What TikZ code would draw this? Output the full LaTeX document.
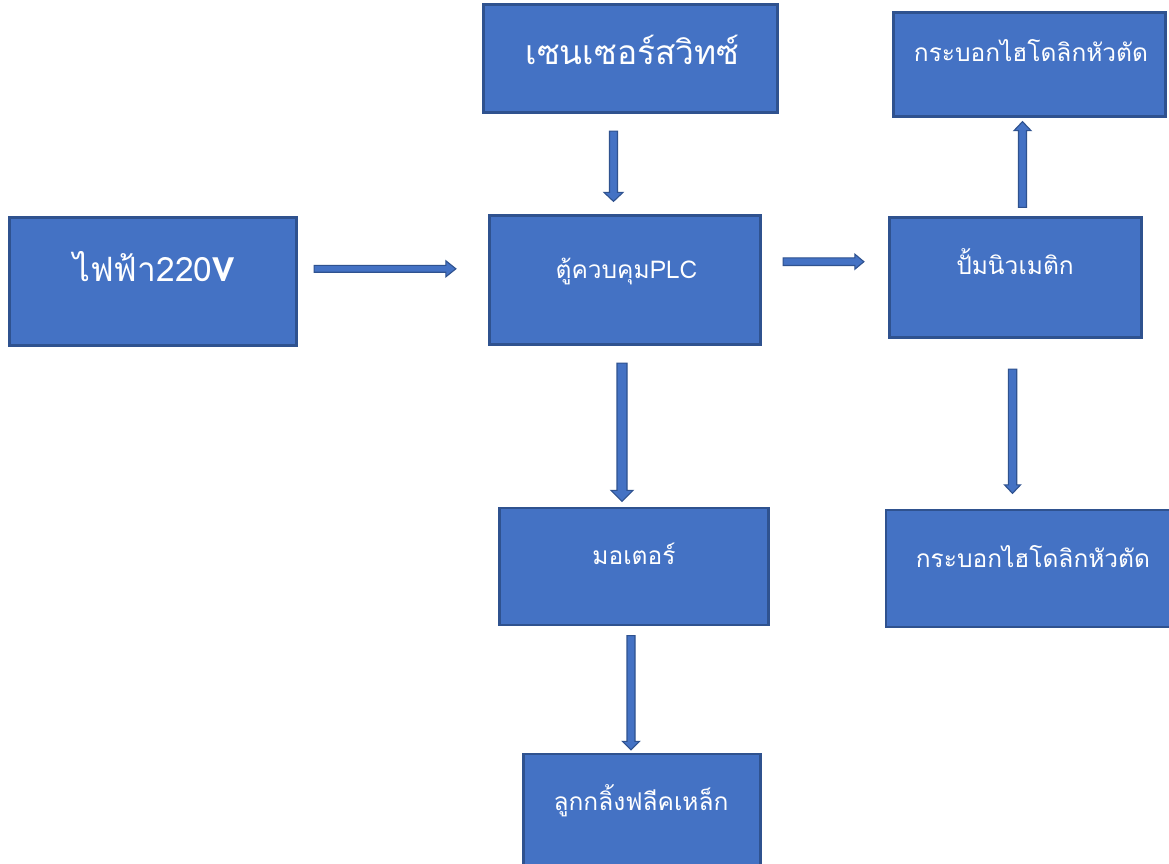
\documentclass[tikz,border=0pt]{standalone}
\usepackage{fontspec}
\newfontfamily\thai[Script=Thai]{Loma}
\usetikzlibrary{calc}
\definecolor{boxfill}{HTML}{4472C4}
\definecolor{boxline}{HTML}{2F528F}
\tikzset{
  box/.style={rectangle, draw=boxline, fill=boxfill, line width=2.2pt, inner sep=0pt},
  txt/.style={text=white, inner sep=0pt, anchor=base},
  big/.style={txt, font=\thai\fontsize{33.5}{38}\selectfont},
  small/.style={txt, font=\thai\fontsize{24.5}{28}\selectfont},
  ar/.style={draw=boxline, fill=boxfill, line width=1.1pt, line join=miter},
}
\newcommand\harrow[5]{\filldraw[ar] let \p1=(#1), \p2=(#2) in (\x1,\y1+#3) -- (\x2-#5,\y1+#3) -- (\x2-#5,\y1+#4) -- (\x2,\y1) -- (\x2-#5,\y1-#4) -- (\x2-#5,\y1-#3) -- (\x1,\y1-#3) -- cycle;}
\newcommand\darrow[5]{\filldraw[ar] let \p1=(#1), \p2=(#2) in (\x1-#3,\y1) -- (\x1-#3,\y2+#5) -- (\x1-#4,\y2+#5) -- (\x1,\y2) -- (\x1+#4,\y2+#5) -- (\x1+#3,\y2+#5) -- (\x1+#3,\y1) -- cycle;}
\newcommand\uarrow[5]{\filldraw[ar] let \p1=(#1), \p2=(#2) in (\x1-#3,\y1) -- (\x1-#3,\y2-#5) -- (\x1-#4,\y2-#5) -- (\x1,\y2) -- (\x1+#4,\y2-#5) -- (\x1+#3,\y2-#5) -- (\x1+#3,\y1) -- cycle;}
\begin{document}
\begin{tikzpicture}[x=1pt,y=-1pt]
\useasboundingbox[fill=white] (0,0) rectangle (1169,864);
% boxes
\node[box, minimum width=287pt, minimum height=128pt] (pwr) at (153,281.5) {};
\node[box, minimum width=294pt, minimum height=108pt] (sen) at (630.5,58.5) {};
\node[box, minimum width=271pt, minimum height=129pt] (plc) at (625,280) {};
\node[box, minimum width=272pt, minimum height=104pt] (cyl1) at (1029.5,64.5) {};
\node[box, minimum width=252pt, minimum height=120pt] (pump) at (1015.5,277.5) {};
\node[box, minimum width=269pt, minimum height=117pt] (mot) at (634,566.5) {};
\node[box, minimum width=292pt, minimum height=117pt] (cyl2) at (1032,568.5) {};
\node[box, minimum width=237pt, minimum height=118pt] (rol) at (642,813) {};
% texts
\node[big] at (154,281.7) {ไฟฟ้า220\textbf{V}};
\node[big] at (632.5,65) {เซนเซอร์สวิทซ์};
\node[small] at (626.5,278) {ตู้ควบคุมPLC};
\node[small] at (1031,62) {กระบอกไฮโดลิกหัวตัด};
\node[small] at (1015,274) {ปั้มนิวเมติก};
\node[small] at (634,564) {มอเตอร์};
\node[small] at (1033,567) {กระบอกไฮโดลิกหัวตัด};
\node[small] at (641,810) {ลูกกลิ้งฟลีคเหล็ก};
% arrows
\harrow{$(pwr.east)+(16.5,-12.7)$}{$(plc.west)+(-32.5,-12.7)$}{3.4pt}{8pt}{10pt}
\darrow{$(sen.south)+(-17,17.5)$}{$(plc.north)+(-11,-13)$}{4pt}{9.5pt}{9pt}
\harrow{$(plc.east)+(21.5,-18.3)$}{$(pump.west)+(-24.5,-18.3)$}{3.8pt}{7.5pt}{9pt}
\uarrow{$(pump.north)+(7,-9)$}{$(cyl1.south)+(-7,4)$}{4pt}{8.5pt}{9pt}
\darrow{$(plc.south)+(-3,17.5)$}{$(mot.north)+(-12,-5.5)$}{5pt}{11pt}{11pt}
\darrow{$(mot.south)+(-3,9.5)$}{$(rol.north)+(-11,-3)$}{4pt}{8.5pt}{8.5pt}
\darrow{$(pump.south)+(-3,30.5)$}{$(cyl2.north)+(-19.5,-15.5)$}{4.2pt}{8pt}{8.5pt}
\end{tikzpicture}
\end{document}
